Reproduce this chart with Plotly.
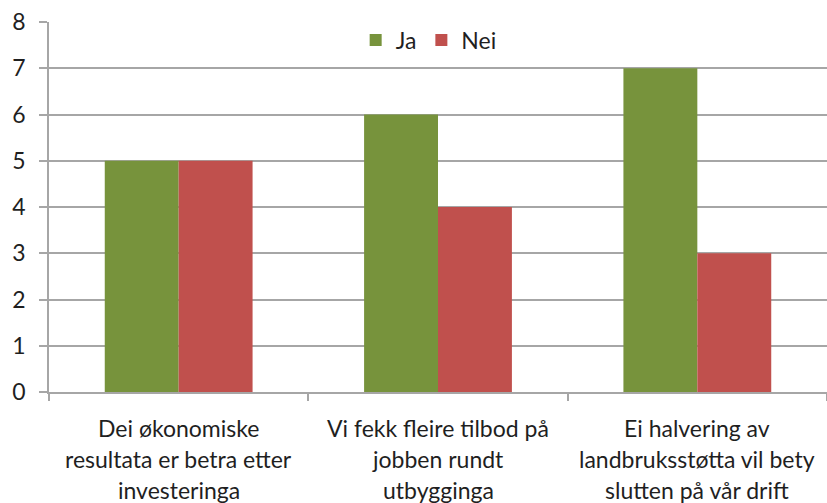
import plotly.graph_objects as go

categories = [
    "Dei økonomiske<br>resultata er betra etter<br>investeringa",
    "Vi fekk fleire tilbod på<br>jobben rundt<br>utbygginga",
    "Ei halvering av<br>landbruksstøtta vil bety<br>slutten på vår drift",
]
ja_values = [5, 6, 7]
nei_values = [5, 4, 3]
y_ticks = [0, 1, 2, 3, 4, 5, 6, 7, 8]

FONT = "Lato"
GRID = "#A6A6A6"
TEXT = "#1F1F1F"

fig = go.Figure()
fig.add_trace(go.Bar(name="Ja", x=list(range(len(categories))), y=ja_values,
                     marker=dict(color="#77933C", line=dict(width=0))))
fig.add_trace(go.Bar(name="Nei", x=list(range(len(categories))), y=nei_values,
                     marker=dict(color="#C0504D", line=dict(width=0))))

# multi-line category labels below the axis
annotations = []
for i, label in enumerate(categories):
    for j, line in enumerate(label.split("<br>")):
        annotations.append(dict(
            x=i, xref="x", y=0, yref="paper", yanchor="middle",
            yshift=-36 - 31 * j, text=line, showarrow=False,
            font=dict(family=FONT, size=23, color=TEXT),
        ))

fig.update_layout(
    width=827, height=503,
    margin=dict(l=49, r=0, t=22, b=111),
    paper_bgcolor="white", plot_bgcolor="white",
    barmode="group", bargap=0.43, bargroupgap=0,
    font=dict(family=FONT, size=22, color=TEXT),
    showlegend=True,
    legend=dict(orientation="h", x=0.488, xanchor="center", y=0.951, yanchor="middle",
                font=dict(family=FONT, size=23, color=TEXT),
                bgcolor="rgba(0,0,0,0)", itemwidth=30, traceorder="normal"),
    annotations=annotations,
)
fig.update_xaxes(
    type="linear", range=[-0.5, len(categories) - 0.5],
    tickvals=[-0.5, 0.5, 1.5, 2.5], showticklabels=False,
    ticks="outside", ticklen=7, tickwidth=1.5, tickcolor=GRID,
    showgrid=False, zeroline=False,
    showline=True, linecolor=GRID, linewidth=1.5,
)
fig.update_yaxes(
    range=[0, 8], tickvals=y_ticks, ticktext=[str(v) for v in y_ticks],
    ticks="outside", ticklen=8, tickwidth=1.5, tickcolor=GRID,
    ticklabelstandoff=9,
    showgrid=True, gridcolor=GRID, gridwidth=1.5,
    zeroline=False, showline=True, linecolor=GRID, linewidth=1.5,
    tickfont=dict(family=FONT, size=23, color=TEXT),
)

fig.write_html("out.html")
